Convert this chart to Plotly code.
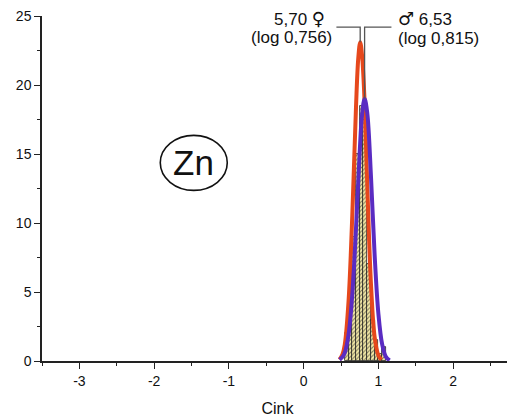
import plotly.graph_objects as go

# ---- data ----
bin_centers = [0.575, 0.625, 0.675, 0.725, 0.775, 0.825, 0.875, 0.925, 0.975, 1.025, 1.075]
bin_counts = [2.0, 3.5, 9.0, 15.0, 18.5, 17.5, 7.0, 3.0, 1.5, 0.5, 1.0]

female_x = [0.48, 0.52, 0.55, 0.60, 0.65, 0.70, 0.73, 0.756, 0.78, 0.81, 0.85, 0.90, 0.95, 1.00, 1.04]
female_y = [0.1, 0.5, 1.2, 4.3, 10.5, 18.4, 21.9, 23.1, 22.2, 19.4, 12.9, 5.6, 1.7, 0.4, 0.1]

male_x = [0.48, 0.52, 0.55, 0.60, 0.65, 0.70, 0.75, 0.78, 0.815, 0.85, 0.90, 0.95, 1.00, 1.05, 1.10, 1.15]
male_y = [0.1, 0.3, 0.6, 1.9, 4.8, 9.6, 15.2, 17.8, 19.0, 18.0, 13.4, 7.6, 3.4, 1.2, 0.3, 0.05]

female_log_mean = 0.756
male_log_mean = 0.815
female_peak = 23.1
male_peak = 19.0
female_label = ["5,70 ", "♀", "(log 0,756)"]
male_label = ["♂", " 6,53", "(log 0,815)"]

x_ticks = [-3, -2, -1, 0, 1, 2]
x_tick_text = ["-3", "-2", "-1", "0", "1", "2"]
y_ticks = [0, 5, 10, 15, 20, 25]

FONT = "Liberation Sans, Arial, sans-serif"
SYM = '<span style="font-family:DejaVu Sans;font-size:18px">{}</span>'
RED = "#e6481c"
PURPLE = "#5a2cc2"

fig = go.Figure()

fig.add_trace(go.Bar(
    x=bin_centers, y=bin_counts, width=0.05,
    marker=dict(color="#f4eaa8",
                line=dict(color="#222222", width=0.8),
                pattern=dict(shape="/", fgcolor="#111111", bgcolor="#f4eaa8", size=3, solidity=0.35)),
    showlegend=False, hoverinfo="skip"))

fig.add_trace(go.Scatter(x=female_x, y=female_y, mode="lines", line=dict(color=RED, width=4, shape="spline"),
                         showlegend=False, hoverinfo="skip"))
fig.add_trace(go.Scatter(x=male_x, y=male_y, mode="lines", line=dict(color=PURPLE, width=4, shape="spline"),
                         showlegend=False, hoverinfo="skip"))

# bracket lines marking the means
bracket_y = 24.2
fig.add_trace(go.Scatter(
    x=[0.438, female_log_mean, female_log_mean, None, male_log_mean, male_log_mean, 1.174],
    y=[bracket_y, bracket_y, female_peak, None, male_peak, bracket_y, bracket_y],
    mode="lines", line=dict(color="#555555", width=1.3), showlegend=False, hoverinfo="skip"))

annots = [
    dict(x=0.304, y=24.8, text=female_label[0] + SYM.format(female_label[1]), xanchor="right"),
    dict(x=0.398, y=23.45, text=female_label[2], xanchor="right"),
    dict(x=1.25, y=24.8, text=SYM.format(male_label[0]) + male_label[1], xanchor="left"),
    dict(x=1.25, y=23.35, text=male_label[2], xanchor="left"),
]
for a in annots:
    fig.add_annotation(x=a["x"], y=a["y"], text=a["text"], xanchor=a["xanchor"], yanchor="middle",
                       showarrow=False, font=dict(family=FONT, size=17, color="#111111"),
                       borderpad=0)

# Zn badge
zn_x, zn_y = -1.47, 14.36
fig.add_shape(type="circle", xref="x", yref="y", xsizemode="pixel", ysizemode="pixel",
              xanchor=zn_x, yanchor=zn_y, x0=-33.5, x1=33.5, y0=-27.5, y1=27.5,
              line=dict(color="#111111", width=1.6))
fig.add_annotation(x=zn_x, y=zn_y, text="Zn", showarrow=False, xanchor="center", yanchor="middle",
                   font=dict(family=FONT, size=35, color="#111111"))

# the page body adds an 8px offset, so the figure is 8px smaller than the window
fig.update_layout(
    width=507, height=411,
    margin=dict(l=34, r=2, t=8, b=58),
    plot_bgcolor="white", paper_bgcolor="white",
    bargap=0,
    font=dict(family=FONT, size=14, color="#111111"),
    xaxis=dict(range=[-3.5, 2.8], tickvals=x_ticks, ticktext=x_tick_text, ticks="outside", ticklen=6, tickwidth=1.3,
               tickcolor="#222222", showline=True, linecolor="#222222", linewidth=1.5,
               showgrid=False, zeroline=False, automargin=False, ticklabeloverflow="allow",
               minor=dict(dtick=0.5, tick0=0, ticks="outside", ticklen=3, tickcolor="#222222", tickwidth=1.2),
               title=dict(text="Cink", font=dict(size=16)),
               tickfont=dict(size=14)),
    yaxis=dict(range=[0, 25], tickvals=y_ticks, ticks="outside", ticklen=6, tickwidth=1.3,
               tickcolor="#222222", showline=True, linecolor="#222222", linewidth=1.5,
               showgrid=False, zeroline=False, automargin=False, ticklabeloverflow="allow",
               minor=dict(dtick=2.5, tick0=0, ticks="outside", ticklen=3, tickcolor="#222222", tickwidth=1.2),
               tickfont=dict(size=14)),
)

fig.write_html("out.html")
